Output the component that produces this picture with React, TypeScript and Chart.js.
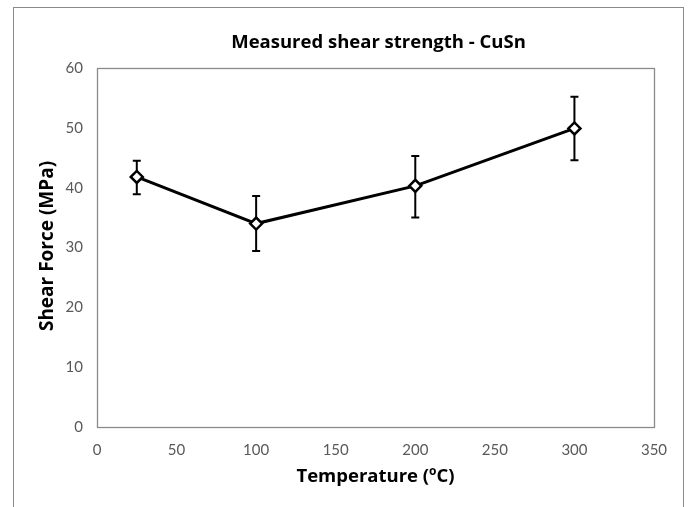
import React, { useEffect, useRef } from "react";
import { Chart, registerables } from "chart.js";

Chart.register(...registerables);

const temperatures = [25, 100, 200, 300];
const shearForce = [41.8, 34.0, 40.3, 49.9];
const errUpper = [44.5, 38.6, 45.3, 55.2];
const errLower = [38.9, 29.4, 35.0, 44.6];
const xTicks = [0, 50, 100, 150, 200, 250, 300, 350];
const yTicks = [0, 10, 20, 30, 40, 50, 60];

const chartTitle = "Measured shear strength - CuSn";
const yTitle = "Shear Force (MPa)";
const xTitleMain = "Temperature (";
const xTitleSup = "o";
const xTitleEnd = "C)";

const TICK_FONT = "Lato";
const TITLE_FONT = "'Open Sans'";

const decorPlugin = {
  id: "decor",
  beforeDraw(chart: any) {
    const ctx = chart.ctx;
    ctx.save();
    ctx.fillStyle = "#ffffff";
    ctx.fillRect(0, 0, chart.width, chart.height);
    ctx.strokeStyle = "#8a8a8a";
    ctx.lineWidth = 1;
    ctx.strokeRect(13.5, 7.5, 670, 520);
    ctx.restore();
  },
  afterDraw(chart: any) {
    const ctx = chart.ctx;
    const a = chart.chartArea;
    ctx.save();
    // plot frame
    ctx.strokeStyle = "#8a8a8a";
    ctx.lineWidth = 1.3;
    ctx.strokeRect(Math.round(a.left) + 0.5, Math.round(a.top) + 0.5, Math.round(a.right - a.left), Math.round(a.bottom - a.top));
    const cx = (a.left + a.right) / 2;
    ctx.fillStyle = "#000000";
    ctx.textAlign = "center";
    ctx.textBaseline = "middle";
    // chart title
    ctx.font = `bold 18.5px ${TITLE_FONT}`;
    ctx.fillText(chartTitle, cx + 3, 43);
    // y title
    ctx.save();
    ctx.translate(48, 246);
    ctx.rotate(-Math.PI / 2);
    ctx.font = `bold 19px ${TITLE_FONT}`;
    ctx.fillText(yTitle, 0, 0);
    ctx.restore();
    // x title with superscript
    const xf = 18.5;
    ctx.font = `bold ${xf}px ${TITLE_FONT}`;
    const w1 = ctx.measureText(xTitleMain).width;
    const w3 = ctx.measureText(xTitleEnd).width;
    ctx.font = `bold 12px ${TITLE_FONT}`;
    const w2 = ctx.measureText(xTitleSup).width;
    const total = w1 + w2 + w3;
    let x = cx - total / 2;
    const y = 477;
    ctx.textAlign = "left";
    ctx.font = `bold ${xf}px ${TITLE_FONT}`;
    ctx.fillText(xTitleMain, x, y);
    x += w1;
    ctx.font = `bold 12px ${TITLE_FONT}`;
    ctx.fillText(xTitleSup, x, y - 5);
    x += w2;
    ctx.font = `bold ${xf}px ${TITLE_FONT}`;
    ctx.fillText(xTitleEnd, x, y);
    ctx.restore();
  },
  afterDatasetsDraw(chart: any) {
    const ctx = chart.ctx;
    const xs = chart.scales.x;
    const ys = chart.scales.y;
    ctx.save();
    ctx.strokeStyle = "#000000";
    ctx.lineWidth = 2;
    for (let i = 0; i < temperatures.length; i++) {
      const px = xs.getPixelForValue(temperatures[i]);
      const pt = ys.getPixelForValue(errUpper[i]);
      const pb = ys.getPixelForValue(errLower[i]);
      const pc = ys.getPixelForValue(shearForce[i]);
      ctx.beginPath();
      ctx.moveTo(px, pt);
      ctx.lineTo(px, pc - 6);
      ctx.moveTo(px, pc + 6);
      ctx.lineTo(px, pb);
      ctx.moveTo(px - 4, pt);
      ctx.lineTo(px + 4, pt);
      ctx.moveTo(px - 4, pb);
      ctx.lineTo(px + 4, pb);
      ctx.stroke();
    }
    ctx.restore();
  },
};

export default function App() {
  const canvasRef = useRef<HTMLCanvasElement | null>(null);

  useEffect(() => {
    if (!canvasRef.current) return;
    const chart = new Chart(canvasRef.current, {
      type: "line",
      data: {
        datasets: [
          {
            data: temperatures.map((t, i) => ({ x: t, y: shearForce[i] })),
            borderColor: "#000000",
            borderWidth: 3,
            pointStyle: "rectRot",
            pointRadius: 6,
            pointBackgroundColor: "#ffffff",
            pointBorderColor: "#000000",
            pointBorderWidth: 2.5,
            tension: 0,
          },
        ],
      },
      options: {
        animation: false,
        responsive: false,
        layout: { padding: { left: 0, top: 68, right: 34, bottom: 0 } },
        plugins: {
          legend: { display: false },
          title: { display: false },
          tooltip: { enabled: false },
        },
        scales: {
          x: {
            type: "linear",
            min: 0,
            max: 350,
            afterBuildTicks: (s: any) => {
              s.ticks = xTicks.map((v) => ({ value: v }));
            },
            afterFit: (s: any) => {
              s.height = 80;
            },
            grid: { display: false, drawTicks: false },
            border: { display: false },
            ticks: {
              padding: 14,
              color: "#595959",
              font: { family: TICK_FONT, size: 15 },
              maxRotation: 0,
            },
          },
          y: {
            type: "linear",
            min: 0,
            max: 60,
            afterBuildTicks: (s: any) => {
              s.ticks = yTicks.map((v) => ({ value: v }));
            },
            afterFit: (s: any) => {
              s.width = 97;
            },
            grid: { display: false, drawTicks: false },
            border: { display: false },
            ticks: {
              padding: 14,
              color: "#595959",
              font: { family: TICK_FONT, size: 15 },
            },
          },
        },
      },
      plugins: [decorPlugin],
    });
    return () => chart.destroy();
  }, []);

  return (
    <div style={{ position: "fixed", left: 0, top: 0, width: 688, height: 507, background: "#fff" }}>
      <canvas ref={canvasRef} width={688} height={507} style={{ width: 688, height: 507, display: "block" }} />
    </div>
  );
}
